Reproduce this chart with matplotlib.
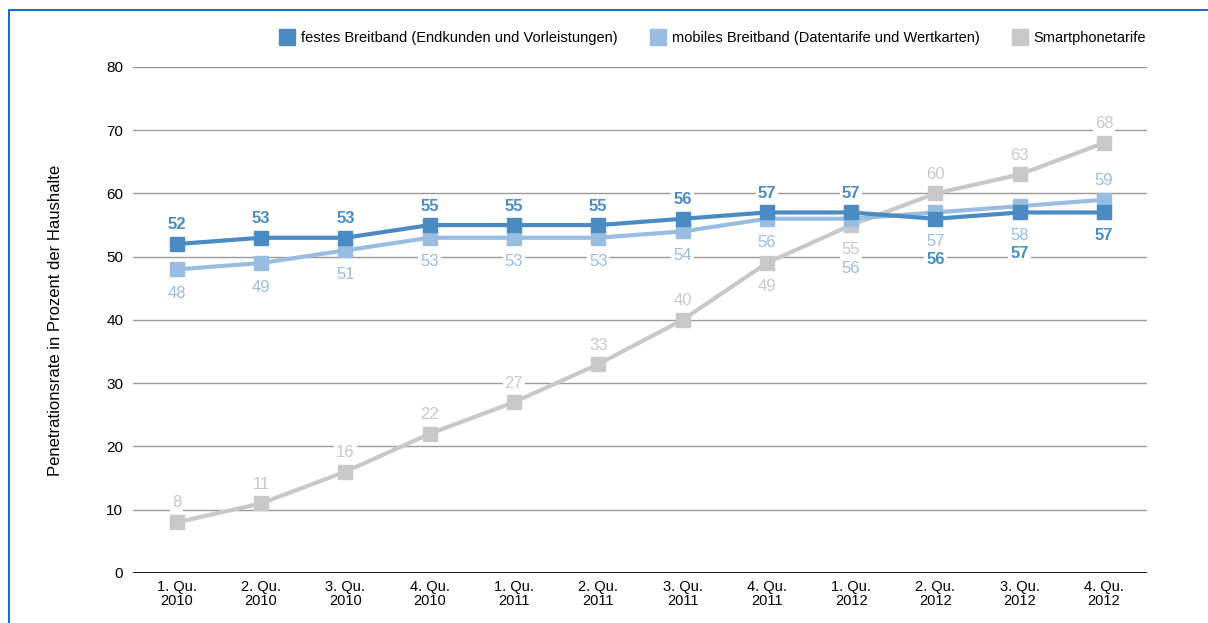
import matplotlib
matplotlib.use("Agg")
from matplotlib import pyplot as plt
from matplotlib.lines import Line2D
import numpy as np

plt.rcParams['font.family'] = ['Liberation Sans Narrow', 'Liberation Sans', 'DejaVu Sans']

quarters = ["1. Qu.\n2010", "2. Qu.\n2010", "3. Qu.\n2010", "4. Qu.\n2010",
            "1. Qu.\n2011", "2. Qu.\n2011", "3. Qu.\n2011", "4. Qu.\n2011",
            "1. Qu.\n2012", "2. Qu.\n2012", "3. Qu.\n2012", "4. Qu.\n2012"]

festes = [52, 53, 53, 55, 55, 55, 56, 57, 57, 56, 57, 57]
mobiles = [48, 49, 51, 53, 53, 53, 54, 56, 56, 57, 58, 59]
smartphone = [8, 11, 16, 22, 27, 33, 40, 49, 55, 60, 63, 68]

series_names = ["festes Breitband (Endkunden und Vorleistungen)",
                "mobiles Breitband (Datentarife und Wertkarten)",
                "Smartphonetarife"]

# vertical label offsets in pixels (negative = above the point)
festes_off = [-20, -19, -19, -19, -19, -19, -19, -19, -19, 41, 41, 23]
mobiles_off = [24, 24, 24, 24, 24, 24, 24, 24, 50, 29, 29, -19]
smart_off = [-20, -19, -19, -19, -19, -19, -19, 23, 24, -19, -19, -19]

c_fest = "#4a8bc4"
c_mob = "#98bde0"
c_smart = "#c8c8c8"

fig = plt.figure(figsize=(12.08, 6.23), dpi=100)
ax = fig.add_axes([0.110, 0.0803, 0.8395, 0.8122])

x = np.arange(len(quarters))

ax.set_ylim(0, 80)
ax.set_xlim(-0.52, len(quarters) - 0.49)
ax.set_yticks(range(0, 81, 10))
for yv in range(10, 81, 10):
    ax.axhline(yv, color="#9a9a9a", lw=1, zorder=1)
ax.axhline(0, color="black", lw=2, zorder=2)

for s in ax.spines.values():
    s.set_visible(False)
ax.tick_params(axis="y", length=0, pad=7, labelsize=11)
ax.tick_params(axis="x", length=0, pad=5, labelsize=10.5)
ax.set_xticks(x)
ax.set_xticklabels(quarters, linespacing=1.05)
ax.set_ylabel("Penetrationsrate in Prozent der Haushalte", fontsize=12, labelpad=31)

data = [(smartphone, smart_off, c_smart, "normal"),
        (mobiles, mobiles_off, c_mob, "normal"),
        (festes, festes_off, c_fest, "bold")]

for vals, offs, col, wt in data:
    ax.plot(x, vals, color=col, lw=3, marker="s", markersize=10, zorder=3)
    for xi, v, o in zip(x, vals, offs):
        ax.annotate(str(v), (xi, v), xytext=(0, -o * 0.72), textcoords="offset points",
                    ha="center", va="center", color=col, fontsize=12,
                    fontweight=wt, zorder=5,
                    bbox=dict(boxstyle="square,pad=0.12", fc="white", ec="none"))

handles = [Line2D([], [], ls="none", marker="s", markersize=12, color=c)
           for c in (c_fest, c_mob, c_smart)]
fig.legend(handles, series_names, loc="center right", ncol=3, frameon=False,
           bbox_to_anchor=(1146 / 1208, 1 - 38 / 623), fontsize=10.5,
           handlelength=1.1, handletextpad=0.4, columnspacing=2.2,
           borderpad=0, borderaxespad=0)

bx = 9 / 1208
by = 1 - 10 / 623
fig.add_artist(Line2D([bx, bx, 1.0], [0.0, by, by], transform=fig.transFigure,
                      color="#1a6cc6", lw=1.5))

fig.savefig("out.png", dpi=100)
